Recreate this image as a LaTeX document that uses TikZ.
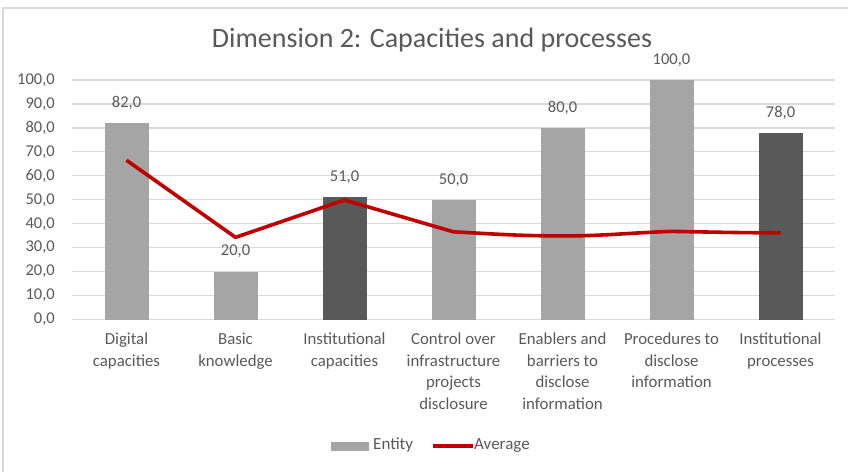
\documentclass[tikz,border=0pt]{standalone}
\usepackage{fontspec}
\setmainfont{Carlito}
\definecolor{txt}{HTML}{595959}
\definecolor{grid}{HTML}{D9D9D9}
\definecolor{lightbar}{HTML}{A5A5A5}
\definecolor{darkbar}{HTML}{595959}
\definecolor{avg}{HTML}{C00000}
\definecolor{frame}{HTML}{D9D9D9}
\begin{document}
\begin{tikzpicture}[x=1pt,y=-1pt,
  ticklbl/.style={anchor=east,text=txt,font=\fontsize{16.5}{18}\selectfont,inner sep=0pt},
  vallbl/.style={anchor=center,text=txt,font=\fontsize{16.5}{18}\selectfont,inner sep=0pt},
  catlbl/.style={anchor=north,text=txt,font=\fontsize{16.8}{21.5}\selectfont,align=center,inner sep=0pt},
  legtxt/.style={anchor=west,text=txt,font=\fontsize{17}{18}\selectfont,inner sep=0pt},
  gridline/.style={draw=grid,line width=1.2pt},
  barL/.style={fill=lightbar,draw=none},
  barD/.style={fill=darkbar,draw=none},
  avgline/.style={draw=avg,line width=3.6pt,line join=round}]
\useasboundingbox (0,0) rectangle (848,472);
\draw[frame,line width=1.5pt] (3,472) -- (3,8) -- (848,8);
\node[text=txt,font=\fontsize{28}{32}\selectfont,inner sep=0pt] (title) at (432,40) {Dimension 2: Capacities and processes};
% grid and ticks
\foreach \v/\l in {0/0,10/1,20/2,30/3,40/4,50/5,60/6,70/7,80/8,90/9,100/10}{
  \draw[gridline] (72,{319.5-2.395*\v}) -- (835,{319.5-2.395*\v});
  \node[ticklbl] (tick\l) at (55,{319.5-2.395*\v}) {\v,0};
}
% bars
\def\bw{22}
\foreach \i/\val/\sty in {1/82/barL,2/20/barL,3/51/barD,4/50/barL,5/80/barL,6/100/barL,7/78/barD}{
  \pgfmathsetmacro{\cx}{72+109*(\i-0.5)}
  \pgfmathsetmacro{\top}{319.5-2.395*\val}
  \fill[\sty] ({\cx-\bw},319.5) rectangle ({\cx+\bw},\top);
  \node[vallbl] (val\i) at (\cx,{\top-20}) {\val,0};
  \coordinate (bar\i) at (\cx,\top);
}
% category labels
\node[catlbl] (c1) at (126.5,333) {Digital\\capacities};
\node[catlbl] (c2) at (235.5,333) {Basic\\knowledge};
\node[catlbl] (c3) at (344.5,333) {Institutional\\capacities};
\node[catlbl] (c4) at (453.5,333) {Control over\\infrastructure\\projects\\disclosure};
\node[catlbl] (c5) at (562.5,333) {Enablers and\\barriers to\\disclose\\information};
\node[catlbl] (c6) at (671.5,333) {Procedures to\\disclose\\information};
\node[catlbl] (c7) at (780.5,333) {Institutional\\processes};
% average line
\foreach \i/\val in {1/66.5,2/34.3,3/49.9,4/36.6,5/34.9,6/36.8,7/36.2}{
  \coordinate (a\i) at ({72+109*(\i-0.5)},{319.5-2.395*\val});
}
\draw[avgline] (a1) -- (a2) -- (a3) -- (a4) to[out=-3,in=180] (a5) to[out=0,in=182] (a6) to[out=-1,in=180] (a7);
% legend
\fill[lightbar] (331,442) rectangle (369,451);
\node[legtxt] (legE) at (373,445) {Entity};
\coordinate (legA1) at (433,445.7);
\coordinate (legA2) at (473,445.7);
\draw[draw=avg,line width=3.6pt] (legA1) -- (legA2);
\node[legtxt] (legAv) at (474,445) {Average};
\end{tikzpicture}
\end{document}
